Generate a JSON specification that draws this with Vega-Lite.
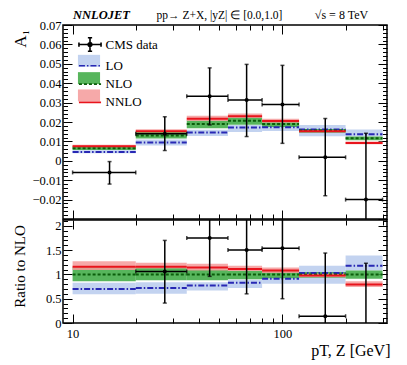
{
  "$schema": "https://vega.github.io/schema/vega-lite/v6.json",
  "padding": {"left": 10, "top": 7, "right": 5, "bottom": 5},
  "config": {
    "font": "Liberation Serif",
    "view": {"stroke": "black", "strokeWidth": 1.5},
    "axis": {"grid": false, "domain": false, "labelFont": "Liberation Serif", "titleFont": "Liberation Serif", "labelColor": "black", "titleColor": "black", "tickColor": "black", "labelFontSize": 12.5, "titleFontWeight": "normal", "labelOverlap": false, "labelFlush": false},
    "legend": {"labelFont": "Liberation Serif"}
  },
  "datasets": {
    "theory": [
      {"series": "LO", "lo": 10, "hi": 20, "c": 0.00455, "blo": 0.00384, "bhi": 0.0054},
      {"series": "LO", "lo": 20, "hi": 35, "c": 0.00943, "blo": 0.00786, "bhi": 0.0110},
      {"series": "LO", "lo": 35, "hi": 55, "c": 0.01463, "blo": 0.01273, "bhi": 0.01596},
      {"series": "LO", "lo": 55, "hi": 80, "c": 0.01718, "blo": 0.0149, "bhi": 0.01842},
      {"series": "LO", "lo": 80, "hi": 120, "c": 0.01729, "blo": 0.01539, "bhi": 0.01786},
      {"series": "LO", "lo": 120, "hi": 200, "c": 0.01607, "blo": 0.01264, "bhi": 0.01841},
      {"series": "LO", "lo": 200, "hi": 300, "c": 0.01369, "blo": 0.01253, "bhi": 0.01612},
      {"series": "NLO", "lo": 10, "hi": 20, "c": 0.0065, "blo": 0.0056, "bhi": 0.0075},
      {"series": "NLO", "lo": 20, "hi": 35, "c": 0.0131, "blo": 0.01153, "bhi": 0.0148},
      {"series": "NLO", "lo": 35, "hi": 55, "c": 0.0190, "blo": 0.01672, "bhi": 0.0209},
      {"series": "NLO", "lo": 55, "hi": 80, "c": 0.0207, "blo": 0.01863, "bhi": 0.02236},
      {"series": "NLO", "lo": 80, "hi": 120, "c": 0.0190, "blo": 0.01748, "bhi": 0.02033},
      {"series": "NLO", "lo": 120, "hi": 200, "c": 0.0156, "blo": 0.01451, "bhi": 0.01638},
      {"series": "NLO", "lo": 200, "hi": 300, "c": 0.0116, "blo": 0.01056, "bhi": 0.01253},
      {"series": "NNLO", "lo": 10, "hi": 20, "c": 0.00754, "blo": 0.00709, "bhi": 0.00826},
      {"series": "NNLO", "lo": 20, "hi": 35, "c": 0.0152, "blo": 0.01467, "bhi": 0.01624},
      {"series": "NNLO", "lo": 35, "hi": 55, "c": 0.02166, "blo": 0.02052, "bhi": 0.02318},
      {"series": "NNLO", "lo": 55, "hi": 80, "c": 0.02298, "blo": 0.02215, "bhi": 0.02443},
      {"series": "NNLO", "lo": 80, "hi": 120, "c": 0.02052, "blo": 0.01957, "bhi": 0.02166},
      {"series": "NNLO", "lo": 120, "hi": 200, "c": 0.01529, "blo": 0.01466, "bhi": 0.01591},
      {"series": "NNLO", "lo": 200, "hi": 300, "c": 0.00916, "blo": 0.00858, "bhi": 0.00998}
    ],
    "ratio": [
      {"series": "LO", "lo": 10, "hi": 20, "c": 0.70, "blo": 0.59, "bhi": 0.83},
      {"series": "LO", "lo": 20, "hi": 35, "c": 0.72, "blo": 0.60, "bhi": 0.84},
      {"series": "LO", "lo": 35, "hi": 55, "c": 0.77, "blo": 0.67, "bhi": 0.84},
      {"series": "LO", "lo": 55, "hi": 80, "c": 0.83, "blo": 0.72, "bhi": 0.89},
      {"series": "LO", "lo": 80, "hi": 120, "c": 0.91, "blo": 0.81, "bhi": 0.94},
      {"series": "LO", "lo": 120, "hi": 200, "c": 1.03, "blo": 0.81, "bhi": 1.18},
      {"series": "LO", "lo": 200, "hi": 300, "c": 1.18, "blo": 1.08, "bhi": 1.39},
      {"series": "NLO", "lo": 10, "hi": 20, "c": 1.0, "blo": 0.86, "bhi": 1.15},
      {"series": "NLO", "lo": 20, "hi": 35, "c": 1.0, "blo": 0.88, "bhi": 1.13},
      {"series": "NLO", "lo": 35, "hi": 55, "c": 1.0, "blo": 0.88, "bhi": 1.10},
      {"series": "NLO", "lo": 55, "hi": 80, "c": 1.0, "blo": 0.90, "bhi": 1.08},
      {"series": "NLO", "lo": 80, "hi": 120, "c": 1.0, "blo": 0.92, "bhi": 1.07},
      {"series": "NLO", "lo": 120, "hi": 200, "c": 1.0, "blo": 0.93, "bhi": 1.05},
      {"series": "NLO", "lo": 200, "hi": 300, "c": 1.0, "blo": 0.91, "bhi": 1.08},
      {"series": "NNLO", "lo": 10, "hi": 20, "c": 1.16, "blo": 1.09, "bhi": 1.27},
      {"series": "NNLO", "lo": 20, "hi": 35, "c": 1.16, "blo": 1.12, "bhi": 1.24},
      {"series": "NNLO", "lo": 35, "hi": 55, "c": 1.14, "blo": 1.08, "bhi": 1.22},
      {"series": "NNLO", "lo": 55, "hi": 80, "c": 1.11, "blo": 1.07, "bhi": 1.18},
      {"series": "NNLO", "lo": 80, "hi": 120, "c": 1.08, "blo": 1.03, "bhi": 1.14},
      {"series": "NNLO", "lo": 120, "hi": 200, "c": 0.98, "blo": 0.94, "bhi": 1.02},
      {"series": "NNLO", "lo": 200, "hi": 300, "c": 0.79, "blo": 0.74, "bhi": 0.86}
    ],
    "cms": [
      {"lo": 10, "hi": 20, "mid": 15, "v": -0.006, "elo": -0.012, "ehi": -0.0004, "r": -0.92, "rlo": -1.85, "rhi": -0.06},
      {"lo": 20, "hi": 35, "mid": 27.5, "v": 0.014, "elo": 0.0053, "ehi": 0.0227, "r": 1.06, "rlo": 0.41, "rhi": 1.70},
      {"lo": 35, "hi": 55, "mid": 45, "v": 0.0333, "elo": 0.0185, "ehi": 0.0479, "r": 1.75, "rlo": 0.96, "rhi": 2.52},
      {"lo": 55, "hi": 80, "mid": 67.5, "v": 0.0313, "elo": 0.0125, "ehi": 0.0497, "r": 1.50, "rlo": 0.60, "rhi": 2.40},
      {"lo": 80, "hi": 120, "mid": 100, "v": 0.029, "elo": 0.009, "ehi": 0.0492, "r": 1.54, "rlo": 0.50, "rhi": 2.58},
      {"lo": 120, "hi": 200, "mid": 160, "v": 0.0018, "elo": -0.018, "ehi": 0.0218, "r": 0.14, "rlo": -1.15, "rhi": 1.44},
      {"lo": 200, "hi": 300, "mid": 250, "v": -0.02, "elo": -0.054, "ehi": 0.0142, "r": -1.72, "rlo": -4.65, "rhi": 1.23}
    ]
  },
  "spacing": 1,
  "bounds": "flush",
  "resolve": {"scale": {"x": "independent", "y": "independent", "fill": "independent", "stroke": "independent", "strokeDash": "independent"}},
  "vconcat": [
    {
      "width": 324,
      "height": 194,
      "resolve": {"axis": {"x": "independent", "y": "independent"}},
      "layer": [
        {
          "data": {"name": "theory"},
          "mark": {"type": "rect", "clip": true, "opacity": 0.85},
          "encoding": {
            "x": {"field": "lo", "type": "quantitative", "scale": {"type": "log", "domain": [9, 315], "nice": false},
              "axis": {"orient": "bottom", "values": [10,20,30,40,50,60,70,80,90,100,200,300], "labels": false,
                "tickSize": {"condition": {"test": "datum.value == 10 || datum.value == 100", "value": -9}, "value": -5},
                "title": "NNLOJET", "titleX": 38, "titleY": -201, "titleFontStyle": "italic", "titleFontWeight": "bold", "titleFontSize": 12.5, "titleBaseline": "alphabetic", "titleAlign": "center", "titleAnchor": null}},
            "x2": {"field": "hi"},
            "y": {"field": "blo", "type": "quantitative", "scale": {"domain": [-0.03, 0.07], "nice": false, "zero": false},
              "axis": {"orient": "left", "values": [-0.03,-0.028,-0.026,-0.024,-0.022,-0.02,-0.018,-0.016,-0.014,-0.012,-0.01,-0.008,-0.006,-0.004,-0.002,0,0.002,0.004,0.006,0.008,0.01,0.012,0.014,0.016,0.018,0.02,0.022,0.024,0.026,0.028,0.03,0.032,0.034,0.036,0.038,0.04,0.042,0.044,0.046,0.048,0.05,0.052,0.054,0.056,0.058,0.06,0.062,0.064,0.066,0.068,0.07],
                "labelExpr": "abs(datum.value*100-round(datum.value*100))<1e-6 && datum.value > -0.025 ? (abs(datum.value)<1e-9 ? '0' : format(datum.value,'.2f')) : ''",
                "tickSize": {"condition": {"test": "abs(datum.value*100-round(datum.value*100))<1e-6", "value": -9}, "value": -4.5},
                "labelPadding": 11,
                "title": "A₁", "titleFontSize": 17, "titleX": -34, "titleY": 4, "titleAlign": "right", "titleBaseline": "bottom", "titleAngle": 270, "titleAnchor": null}},
            "y2": {"field": "bhi"},
            "fill": {"field": "series", "type": "nominal",
              "scale": {"domain": ["CMS", "LO", "NLO", "NNLO"], "range": ["rgba(0,0,0,0)", "#b9cbed", "#3aa83f", "#f59a9a"]},
              "legend": {"orient": "none", "legendX": 17.5, "legendY": 10, "title": null, "padding": 0, "symbolSize": 289, "rowPadding": 1.3, "labelOffset": 6, "labelFontSize": 13, "labelExpr": "''", "symbolType": "M-1.3,-0.7H1.3V0.7H-1.3Z", "symbolStrokeWidth": 0, "symbolOpacity": 0.85}}
          }
        },
        {
          "mark": {"type": "rule", "color": "black", "strokeWidth": 1, "strokeDash": [3, 3]},
          "encoding": {"y": {"datum": 0, "type": "quantitative", "axis": null}}
        },
        {
          "data": {"name": "theory"},
          "mark": {"type": "rule", "clip": true, "strokeWidth": 2},
          "encoding": {
            "x": {"field": "lo", "type": "quantitative", "scale": {"type": "log", "domain": [9, 315], "nice": false},
              "axis": {"orient": "top", "values": [10,20,30,40,50,60,70,80,90,100,200,300], "labels": false,
                "tickSize": {"condition": {"test": "datum.value == 10 || datum.value == 100", "value": -9}, "value": -5},
                "title": "pp→ Z+X,  |yZ| ∈ [0.0,1.0]", "titleX": 156, "titleY": -7, "titleFontSize": 11.5, "titleBaseline": "alphabetic", "titleAlign": "center", "titleAnchor": null}},
            "x2": {"field": "hi"},
            "y": {"field": "c", "type": "quantitative", "scale": {"domain": [-0.03, 0.07], "nice": false, "zero": false},
              "axis": {"orient": "right", "values": [-0.03,-0.028,-0.026,-0.024,-0.022,-0.02,-0.018,-0.016,-0.014,-0.012,-0.01,-0.008,-0.006,-0.004,-0.002,0,0.002,0.004,0.006,0.008,0.01,0.012,0.014,0.016,0.018,0.02,0.022,0.024,0.026,0.028,0.03,0.032,0.034,0.036,0.038,0.04,0.042,0.044,0.046,0.048,0.05,0.052,0.054,0.056,0.058,0.06,0.062,0.064,0.066,0.068,0.07],
                "labels": false,
                "tickSize": {"condition": {"test": "abs(datum.value*100-round(datum.value*100))<1e-6", "value": -9}, "value": -4.5},
                "title": "√s = 8 TeV", "titleAngle": 0, "titleX": -46, "titleY": -7, "titleFontSize": 12, "titleAlign": "center", "titleBaseline": "alphabetic", "titleAnchor": null}},
            "stroke": {"field": "series", "type": "nominal",
              "scale": {"domain": ["CMS data", "LO", "NLO", "NNLO"], "range": ["black", "#2828b4", "#0b5e0b", "#e8141c"]},
              "legend": {"orient": "none", "legendX": 17.5, "legendY": 10, "title": null, "padding": 0, "symbolSize": 289, "rowPadding": 1.3, "labelOffset": 6, "labelFontSize": 13, "labelColor": "black", "symbolStrokeWidth": 1.6,
                "encode": {"symbols": {"update": {
                  "shape": {"signal": "datum.value === 'CMS data' ? 'M-1.3,0H1.3M0,-0.8V0.8M-0.25,-0.8H0.25M-0.25,0.8H0.25M-1.3,-0.25V0.25M1.3,-0.25V0.25M-0.22,0A0.22,0.22 0 1,1 0.22,0A0.22,0.22 0 1,1 -0.22,0Z' : 'M-1.3,0H1.3'"},
                  "fill": {"signal": "datum.value === 'CMS data' ? 'black' : 'transparent'"}}}}}},
            "strokeDash": {"field": "series", "type": "nominal",
              "scale": {"domain": ["CMS data", "LO", "NLO", "NNLO"], "range": [[1, 0], [6, 2, 1.5, 2], [3, 2], [1, 0]]},
              "legend": {"orient": "none", "legendX": 17.5, "legendY": 10, "title": null, "padding": 0, "symbolSize": 289, "rowPadding": 1.3, "labelOffset": 6, "labelFontSize": 13, "labelColor": "black", "symbolStrokeWidth": 1.6}}
          }
        },
        {
          "data": {"name": "cms"},
          "mark": {"type": "errorbar", "clip": true, "color": "black", "ticks": {"size": 4}, "thickness": 1.5},
          "encoding": {
            "x": {"field": "lo", "type": "quantitative", "axis": null},
            "x2": {"field": "hi"},
            "y": {"field": "v", "type": "quantitative", "axis": null}
          }
        },
        {
          "data": {"name": "cms"},
          "mark": {"type": "errorbar", "clip": true, "color": "black", "ticks": {"size": 4}, "thickness": 1.5},
          "encoding": {
            "x": {"field": "mid", "type": "quantitative", "axis": null},
            "y": {"field": "elo", "type": "quantitative", "axis": null},
            "y2": {"field": "ehi"}
          }
        },
        {
          "data": {"name": "cms"},
          "mark": {"type": "point", "filled": true, "clip": true, "color": "black", "size": 16, "opacity": 1},
          "encoding": {
            "x": {"field": "mid", "type": "quantitative", "axis": null},
            "y": {"field": "v", "type": "quantitative", "axis": null}
          }
        }
      ]
    },
    {
      "width": 324,
      "height": 103,
      "resolve": {"axis": {"x": "independent", "y": "independent"}},
      "layer": [
        {
          "data": {"name": "ratio"},
          "mark": {"type": "rect", "clip": true, "opacity": 0.85},
          "encoding": {
            "x": {"field": "lo", "type": "quantitative", "scale": {"type": "log", "domain": [9, 315], "nice": false},
              "axis": {"orient": "bottom", "values": [10,20,30,40,50,60,70,80,90,100,200,300],
                "labelExpr": "datum.value == 10 || datum.value == 100 ? datum.label : ''",
                "labelPadding": 13, "labelFontSize": 12.5,
                "tickSize": {"condition": {"test": "datum.value == 10 || datum.value == 100", "value": -9}, "value": -5},
                "title": "pT, Z [GeV]", "titleX": 327, "titleY": 32, "titleFontSize": 16, "titleAlign": "right", "titleBaseline": "alphabetic", "titleAnchor": null}},
            "x2": {"field": "hi"},
            "y": {"field": "blo", "type": "quantitative", "scale": {"domain": [0, 2.12], "nice": false},
              "axis": {"orient": "left", "values": [0,0.1,0.2,0.3,0.4,0.5,0.6,0.7,0.8,0.9,1,1.1,1.2,1.3,1.4,1.5,1.6,1.7,1.8,1.9,2,2.1],
                "labelExpr": "abs(datum.value*2-round(datum.value*2))<1e-6 ? format(datum.value,'.1~f') : ''",
                "tickSize": {"condition": {"test": "abs(datum.value*2-round(datum.value*2))<1e-6", "value": -9}, "value": -4.5},
                "labelPadding": 11,
                "title": "Ratio to NLO", "titleFontSize": 15, "titleX": -35.5, "titleY": 46, "titleAlign": "center", "titleBaseline": "bottom", "titleAngle": 270, "titleAnchor": null}},
            "y2": {"field": "bhi"},
            "fill": {"field": "series", "type": "nominal",
              "scale": {"domain": ["LO", "NLO", "NNLO"], "range": ["#b9cbed", "#3aa83f", "#f59a9a"]},
              "legend": null}
          }
        },
        {
          "data": {"name": "ratio"},
          "mark": {"type": "rule", "clip": true, "strokeWidth": 2},
          "encoding": {
            "x": {"field": "lo", "type": "quantitative", "scale": {"type": "log", "domain": [9, 315], "nice": false},
              "axis": {"orient": "top", "values": [10,20,30,40,50,60,70,80,90,100,200,300], "labels": false,
                "tickSize": {"condition": {"test": "datum.value == 10 || datum.value == 100", "value": -9}, "value": -5},
                "title": null}},
            "x2": {"field": "hi"},
            "y": {"field": "c", "type": "quantitative", "scale": {"domain": [0, 2.12], "nice": false},
              "axis": {"orient": "right", "values": [0,0.1,0.2,0.3,0.4,0.5,0.6,0.7,0.8,0.9,1,1.1,1.2,1.3,1.4,1.5,1.6,1.7,1.8,1.9,2,2.1],
                "labels": false,
                "tickSize": {"condition": {"test": "abs(datum.value*2-round(datum.value*2))<1e-6", "value": -9}, "value": -4.5},
                "title": null}},
            "stroke": {"field": "series", "type": "nominal",
              "scale": {"domain": ["LO", "NLO", "NNLO"], "range": ["#2828b4", "#0b5e0b", "#e8141c"]}, "legend": null},
            "strokeDash": {"field": "series", "type": "nominal",
              "scale": {"domain": ["LO", "NLO", "NNLO"], "range": [[6, 2, 1.5, 2], [3, 2], [1, 0]]}, "legend": null}
          }
        },
        {
          "data": {"name": "cms"},
          "mark": {"type": "errorbar", "clip": true, "color": "black", "ticks": {"size": 4}, "thickness": 1.5},
          "encoding": {
            "x": {"field": "lo", "type": "quantitative", "axis": null},
            "x2": {"field": "hi"},
            "y": {"field": "r", "type": "quantitative", "axis": null}
          }
        },
        {
          "data": {"name": "cms"},
          "mark": {"type": "errorbar", "clip": true, "color": "black", "ticks": {"size": 4}, "thickness": 1.5},
          "encoding": {
            "x": {"field": "mid", "type": "quantitative", "axis": null},
            "y": {"field": "rlo", "type": "quantitative", "axis": null},
            "y2": {"field": "rhi"}
          }
        },
        {
          "data": {"name": "cms"},
          "mark": {"type": "point", "filled": true, "clip": true, "color": "black", "size": 16, "opacity": 1},
          "encoding": {
            "x": {"field": "mid", "type": "quantitative", "axis": null},
            "y": {"field": "r", "type": "quantitative", "axis": null}
          }
        }
      ]
    }
  ]
}
